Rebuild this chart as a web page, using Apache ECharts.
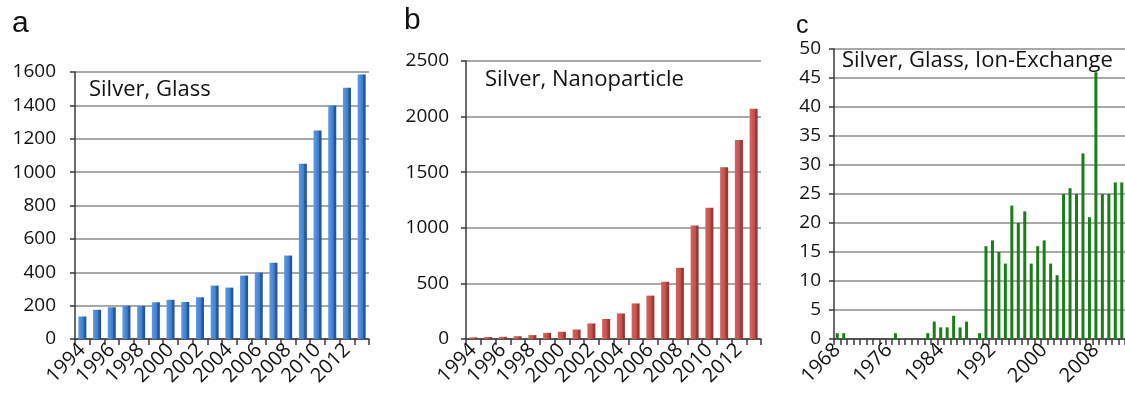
<!DOCTYPE html>
<html><head><meta charset="utf-8">
<script src="https://cdn.jsdelivr.net/npm/echarts@6/dist/echarts.min.js"></script>
<style>html,body{margin:0;padding:0;background:#fff}#c{width:1125px;height:397px}</style>
</head><body><div id="c"></div>
<script>
// Panel a: Silver, Glass
const yearsAB = ['1994','1995','1996','1997','1998','1999','2000','2001','2002','2003','2004','2005','2006','2007','2008','2009','2010','2011','2012','2013'];
const silverGlass = [135,175,190,200,198,220,235,222,250,320,308,380,398,457,500,1050,1250,1400,1505,1585];
// Panel b: Silver, Nanoparticle
const silverNano = [15,18,20,25,35,55,65,85,140,180,230,320,390,515,640,1020,1180,1545,1790,2070];
// Panel c: Silver, Glass, Ion-Exchange
const yearsC = [];
for (let y = 1968; y <= 2012; y++) yearsC.push(String(y));
const silverGlassIon = [1,1,0,0,0,0,0,0,0,1,0,0,0,0,1,3,2,2,4,2,3,0,1,16,17,15,13,23,20,22,13,16,17,13,11,25,26,25,32,21,46,25,25,27,27];
const yTicksA = [0,1600,200];
const yTicksB = [0,2500,500];
const yTicksC = [0,50,5];

const F = '"Open Sans", sans-serif';
const axisCol = '#3a3a3a';
const gridCol = '#8c8c8c';

function yAxis(gi, t, m) {
  return {
    type: 'value', gridIndex: gi, min: t[0], max: t[1], interval: t[2],
    axisLine: {show: true, lineStyle: {color: axisCol, width: 1.5}},
    axisTick: {show: true, length: 5, lineStyle: {color: axisCol, width: 1.5}},
    axisLabel: {color: '#111', fontFamily: F, fontSize: 19, margin: m, formatter: v => String(v)},
    splitLine: {show: true, lineStyle: {color: gridCol, width: 1.5}}
  };
}
function xAxis(gi, cats, labInt, fs) {
  return {
    type: 'category', gridIndex: gi, data: cats, boundaryGap: true,
    axisLine: {show: true, lineStyle: {color: axisCol, width: 1.5}},
    axisTick: {show: true, interval: 0, length: 6, lineStyle: {color: axisCol, width: 1.5}},
    axisLabel: {interval: labInt, rotate: 45, color: '#111', fontFamily: F, fontSize: fs, margin: 8},
    splitLine: {show: false}
  };
}
function grad(c0, c1, c2, c3) {
  return {type: 'linear', x: 0, y: 0, x2: 1, y2: 0,
    colorStops: [{offset: 0, color: c0}, {offset: 0.6, color: c1}, {offset: 0.72, color: c2}, {offset: 1, color: c3}]};
}

const chart = echarts.init(document.getElementById('c'), null, {renderer: 'canvas'});
chart.setOption({
  animation: false,
  backgroundColor: '#fff',
  grid: [
    {left: 75, top: 72, width: 294, height: 267},
    {left: 466, top: 61, width: 295, height: 278},
    {left: 834, top: 49, width: 291, height: 290}
  ],
  xAxis: [xAxis(0, yearsAB, 1, 20), xAxis(1, yearsAB, 1, 20), xAxis(2, yearsC, 7, 20)],
  yAxis: [yAxis(0, yTicksA, 19), yAxis(1, yTicksB, 17), yAxis(2, yTicksC, 13)],
  series: [
    {type: 'bar', xAxisIndex: 0, yAxisIndex: 0, data: silverGlass, barWidth: 8,
     itemStyle: {color: grad('#5b9be6', '#3f7fd0', '#2a5ca6', '#224e8f')}},
    {type: 'bar', xAxisIndex: 1, yAxisIndex: 1, data: silverNano, barWidth: 8,
     itemStyle: {color: grad('#d8635e', '#c4504c', '#a03c39', '#8c3431')}},
    {type: 'bar', xAxisIndex: 2, yAxisIndex: 2, data: silverGlassIon, barWidth: 3,
     itemStyle: {color: '#1a7d1a'}}
  ],
  graphic: [
    {type: 'text', left: 12, top: 9, style: {text: 'a', font: '30px "Liberation Sans", Arial, sans-serif', fill: '#111'}},
    {type: 'text', left: 404, top: 6, style: {text: 'b', font: '30px "Liberation Sans", Arial, sans-serif', fill: '#111'}},
    {type: 'text', left: 796, top: 14, style: {text: 'c', font: '25px "Liberation Sans", Arial, sans-serif', fill: '#111'}},
    {type: 'text', left: 89, top: 79, style: {text: 'Silver, Glass', font: '22px "Open Sans", sans-serif', fill: '#111'}},
    {type: 'text', left: 485, top: 69, style: {text: 'Silver, Nanoparticle', font: '22px "Open Sans", sans-serif', fill: '#111'}},
    {type: 'text', left: 842, top: 50, style: {text: 'Silver, Glass, Ion-Exchange', font: '22px "Open Sans", sans-serif', fill: '#111'}}
  ]
});
</script></body></html>
